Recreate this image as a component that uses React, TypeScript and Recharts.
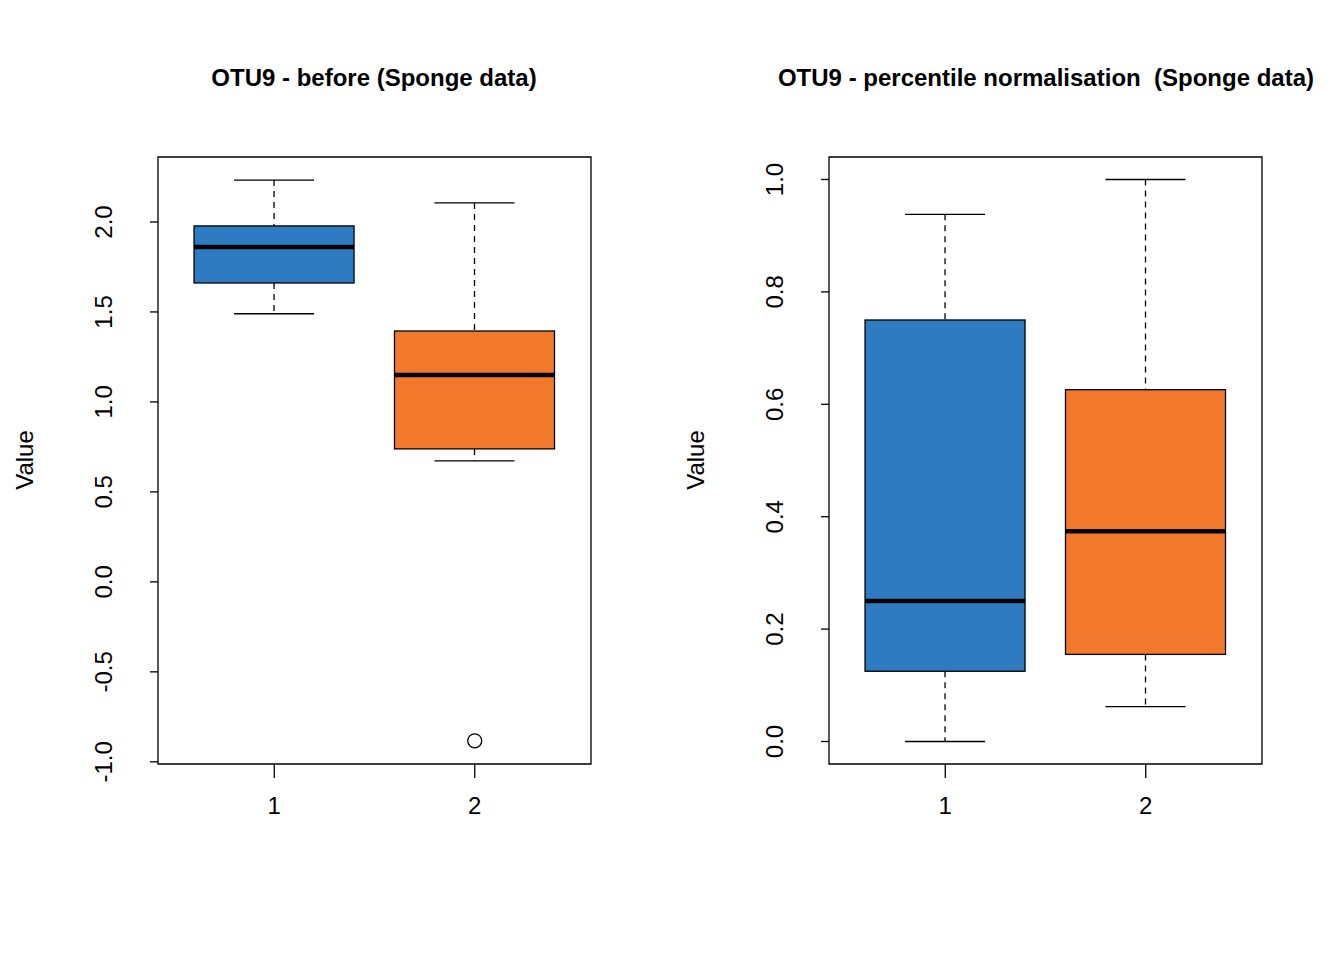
import React from 'react';
import { ComposedChart, Bar, Scatter, XAxis, YAxis, ReferenceArea } from 'recharts';

const groups = [1, 2];
const colors = ['#2E7BC2', '#F2792B'];
const beforeLow = [1.49, 0.672];
const beforeQ1 = [1.661, 0.739];
const beforeMed = [1.861, 1.15];
const beforeQ3 = [1.978, 1.394];
const beforeHigh = [2.233, 2.106];
const beforeOutliers = [{ x: 2, y: -0.883 }];
const beforeTicks = [-1, -0.5, 0, 0.5, 1, 1.5, 2];

const pctLow = [0, 0.062];
const pctQ1 = [0.125, 0.155];
const pctMed = [0.25, 0.374];
const pctQ3 = [0.75, 0.626];
const pctHigh = [0.938, 1.0];
const pctTicks = [0, 0.2, 0.4, 0.6, 0.8, 1.0];

const FONT = 'Liberation Sans, Arial, sans-serif';

function build(low: number[], q1: number[], med: number[], q3: number[], high: number[]) {
  return groups.map((g, i) => ({ x: g, range: [low[i], high[i]], low: low[i], q1: q1[i], med: med[i], q3: q3[i], high: high[i], color: colors[i] }));
}

const BoxShape = (props: any) => {
  const { x, y, width, height, payload } = props;
  const p = payload;
  const span = p.high - p.low;
  const py = (v: number) => y + (height * (p.high - v)) / span;
  const cx = x + width / 2;
  const hw = width / 2;
  const cw = width / 4;
  return (
    <g>
      <line x1={cx} x2={cx} y1={py(p.high)} y2={py(p.q3)} stroke="#000" strokeWidth={1.3} strokeDasharray="6 5" />
      <line x1={cx} x2={cx} y1={py(p.q1)} y2={py(p.low)} stroke="#000" strokeWidth={1.3} strokeDasharray="6 5" />
      <line x1={cx - cw} x2={cx + cw} y1={py(p.high)} y2={py(p.high)} stroke="#000" strokeWidth={1.3} />
      <line x1={cx - cw} x2={cx + cw} y1={py(p.low)} y2={py(p.low)} stroke="#000" strokeWidth={1.3} />
      <rect x={cx - hw} y={py(p.q3)} width={2 * hw} height={py(p.q1) - py(p.q3)} fill={p.color} stroke="#000" strokeWidth={1.3} />
      <line x1={cx - hw} x2={cx + hw} y1={py(p.med)} y2={py(p.med)} stroke="#000" strokeWidth={4.5} />
    </g>
  );
};

const YTick = (props: any) => {
  const { x, y, payload } = props;
  const v = payload.value;
  return (
    <text x={x - 44} y={y} transform={`rotate(-90, ${x - 44}, ${y})`} textAnchor="middle" dominantBaseline="central" fontSize={24} fontFamily={FONT} fill="#000">
      {v.toFixed(1)}
    </text>
  );
};

const XTick = (props: any) => {
  const { x, y, payload } = props;
  return (
    <text x={x} y={y + 34} textAnchor="middle" fontSize={24} fontFamily={FONT} fill="#000">{payload.value}</text>
  );
};

function Panel({ data, ticks, domain, outliers, title, titleX }: any) {
  return (
    <div style={{ position: 'absolute', left: 0, top: 0, width: 672, height: 960 }}>
      <ComposedChart width={672} height={960} data={data} margin={{ top: 157, right: 81, bottom: 136, left: 98 }}>
        <XAxis dataKey="x" type="number" domain={[0.42, 2.58]} ticks={[1, 2]} axisLine={false} tickLine={{ stroke: '#000', strokeWidth: 1.3 }} tickSize={14} tick={<XTick />} height={60} allowDataOverflow />
        <YAxis type="number" domain={domain} ticks={ticks} axisLine={false} tickLine={{ stroke: '#000', strokeWidth: 1.3 }} tickSize={8} tick={<YTick />} width={60} allowDataOverflow />
        <ReferenceArea x1={0.42} x2={2.58} y1={domain[0]} y2={domain[1]} fill="none" stroke="#000" strokeWidth={1.3} ifOverflow="visible" />
        <Bar dataKey="range" barSize={160} shape={<BoxShape />} isAnimationActive={false} />
        {outliers && (
          <Scatter data={outliers} dataKey="y" isAnimationActive={false}
            shape={(p: any) => <circle cx={p.cx} cy={p.cy} r={7} fill="none" stroke="#000" strokeWidth={1.3} />} />
        )}
      </ComposedChart>
      <div style={{ position: 'absolute', left: 10, top: 460, width: 30, height: 0 }}>
        <div style={{ position: 'absolute', left: 0, top: 0, transform: 'translate(-50%, -50%) rotate(-90deg)', fontFamily: FONT, fontSize: 24, whiteSpace: 'nowrap', marginLeft: 15 }}>Value</div>
      </div>
      <div style={{ position: 'absolute', left: titleX - 400, width: 800, top: 64, textAlign: 'center', fontFamily: FONT, fontSize: 24, fontWeight: 'bold', whiteSpace: 'pre' }}>{title}</div>
    </div>
  );
}

export default function App() {
  const before = build(beforeLow, beforeQ1, beforeMed, beforeQ3, beforeHigh);
  const pct = build(pctLow, pctQ1, pctMed, pctQ3, pctHigh);
  return (
    <div style={{ position: 'absolute', left: 0, top: 0, width: 1344, height: 960, overflow: 'hidden', background: '#fff' }}>
      <div style={{ position: 'absolute', left: 0, top: 0, width: 672, height: 960 }}>
        <Panel data={before} ticks={beforeTicks} domain={[-1.012, 2.361]} outliers={beforeOutliers} title="OTU9 - before (Sponge data)" titleX={374} />
      </div>
      <div style={{ position: 'absolute', left: 671, top: 0, width: 673, height: 960 }}>
        <Panel data={pct} ticks={pctTicks} domain={[-0.04, 1.04]} title="OTU9 - percentile normalisation  (Sponge data)" titleX={375} />
      </div>
    </div>
  );
}
